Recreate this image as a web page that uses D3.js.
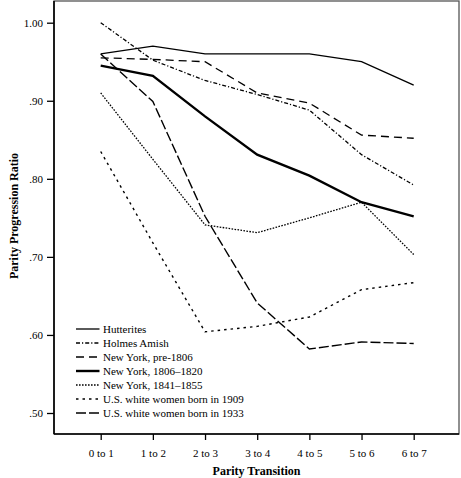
<!DOCTYPE html>
<html><head><meta charset="utf-8">
<script src="https://cdn.jsdelivr.net/npm/d3@7"></script>
<style>body{margin:0;background:#fff}svg{display:block}text{font-family:"Liberation Serif","Times New Roman",serif;fill:#000}</style>
</head><body><svg id="c" width="461" height="478"></svg>
<script>
const categories = ["0 to 1","1 to 2","2 to 3","3 to 4","4 to 5","5 to 6","6 to 7"];
const yTicks = [0.5,0.6,0.7,0.8,0.9,1.0];
const seriesNames = ["Hutterites","Holmes Amish","New York, pre-1806","New York, 1806\u20131820","New York, 1841\u20131855","U.S. white women born in 1909","U.S. white women born in 1933"];
const hutterites = [0.96,0.97,0.96,0.96,0.96,0.95,0.92];
const holmesAmish = [1.00,0.952,0.926,0.908,0.888,0.831,0.792];
const nyPre1806 = [0.955,0.953,0.950,0.910,0.897,0.856,0.852];
const ny1806 = [0.945,0.932,0.880,0.831,0.804,0.770,0.752];
const ny1841 = [0.910,0.825,0.741,0.731,0.750,0.770,0.703];
const us1909 = [0.835,0.718,0.604,0.611,0.623,0.658,0.667];
const us1933 = [0.960,0.899,0.752,0.641,0.582,0.591,0.589];
const seriesValues = [hutterites,holmesAmish,nyPre1806,ny1806,ny1841,us1909,us1933];
const styles = [
  {w:1.3,dash:null},
  {w:1.3,dash:"4,2,1.2,2"},
  {w:1.3,dash:"8,5"},
  {w:2.4,dash:null},
  {w:1.3,dash:"1.6,1.4"},
  {w:1.4,dash:"2.5,4"},
  {w:1.4,dash:"10,3"}
];

const svg = d3.select("#c");
const L=54, T=1, R=459, B=434;
const x = d3.scalePoint().domain(categories).range([100.7,413.7]);
const y = d3.scaleLinear().domain([0.5,1.0]).range([413,22.7]);

svg.append("rect").attr("x",L).attr("y",T).attr("width",R-L).attr("height",B-T)
  .attr("fill","none").attr("stroke","#555").attr("stroke-width",1.3);

const fmt = v => d3.format(".2f")(v).replace(/^0/,"");
const ya = svg.append("g").attr("transform",`translate(${L},0)`)
  .call(d3.axisLeft(y).tickValues(yTicks).tickFormat(fmt).tickSize(7).tickPadding(4));
ya.select(".domain").attr("stroke","#000").attr("stroke-width",1.6).attr("d",`M0,${T}V${B}`);
ya.selectAll(".tick line").attr("stroke-width",1.3);
ya.selectAll("text").attr("font-size",11).attr("font-family","Liberation Serif");

const xa = svg.append("g").attr("transform",`translate(0,${B})`)
  .call(d3.axisBottom(x).tickSize(6).tickPadding(9));
xa.select(".domain").attr("stroke","#000").attr("stroke-width",1.6).attr("d",`M${L},0H${R}`);
xa.selectAll(".tick line").attr("stroke-width",1.3);
xa.selectAll("text").attr("font-size",11).attr("font-family","Liberation Serif");

const line = d3.line().x((d,i)=>x(categories[i])).y(d=>y(d));
seriesValues.forEach((vals,k)=>{
  svg.append("path").datum(vals).attr("d",line).attr("fill","none")
    .attr("stroke","#000").attr("stroke-width",styles[k].w)
    .attr("stroke-dasharray",styles[k].dash).attr("stroke-linejoin","miter");
});

const lg = svg.append("g");
seriesNames.forEach((n,k)=>{
  const yy = 329 + k*14;
  lg.append("line").attr("x1",76).attr("x2",99.5).attr("y1",yy).attr("y2",yy)
    .attr("stroke","#000").attr("stroke-width",styles[k].w).attr("stroke-dasharray",styles[k].dash);
  lg.append("text").attr("x",103).attr("y",yy+3.8).attr("font-size",11).text(n);
});

svg.append("text").attr("x",256.5).attr("y",475).attr("text-anchor","middle")
  .attr("font-size",12).attr("font-weight","bold").text("Parity Transition");
svg.append("text").attr("transform","translate(18,216) rotate(-90)").attr("text-anchor","middle")
  .attr("font-size",12).attr("font-weight","bold").text("Parity Progression Ratio");
</script></body></html>
